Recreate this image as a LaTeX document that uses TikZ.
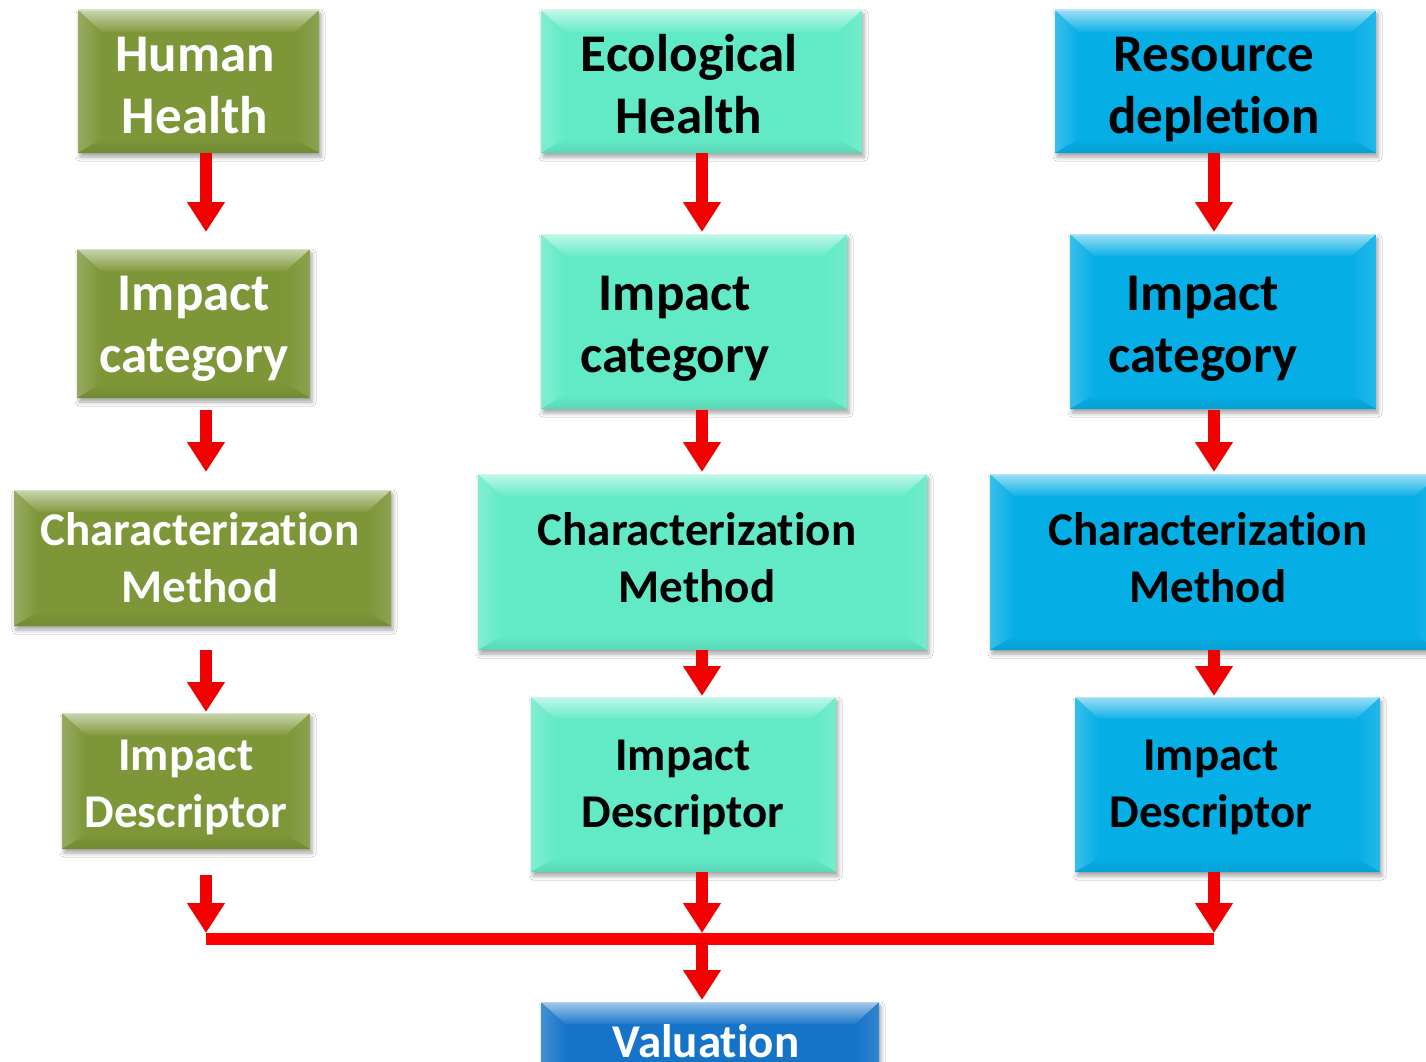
\documentclass[tikz,border=0pt]{standalone}
\usepackage{fontspec}
\setmainfont{Carlito}[Ligatures=NoCommon]
\usetikzlibrary{arrows.meta,calc,shadows.blur}

\definecolor{olivebox}{RGB}{124,150,56}
\definecolor{aquabox}{RGB}{98,234,198}
\definecolor{bluebox}{RGB}{6,174,230}
\definecolor{valbox}{RGB}{22,116,200}
\definecolor{flowred}{RGB}{240,0,0}

\tikzset{
  bevelbox/.style={rectangle, inner sep=0pt, outer sep=0pt, fill=#1,
    blur shadow={shadow xshift=2pt, shadow yshift=-4pt, shadow blur radius=4pt, shadow opacity=35},
    path picture={
      \coordinate (bNW) at (path picture bounding box.north west);
      \coordinate (bSE) at (path picture bounding box.south east);
      \coordinate (bNE) at (bSE |- bNW);
      \coordinate (bSW) at (bNW |- bSE);
      \coordinate (iNW) at ([shift={(24pt,-22pt)}]bNW);
      \coordinate (iNE) at ([shift={(-24pt,-22pt)}]bNE);
      \coordinate (iSW) at ([shift={(24pt,14pt)}]bSW);
      \coordinate (iSE) at ([shift={(-24pt,14pt)}]bSE);
      % left and right facets
      \shade[left color=#1!80!white, right color=#1] (bNW) -- (iNW) -- (iSW) -- (bSW) -- cycle;
      \shade[left color=#1, right color=#1!88!white] (bNE) -- (iNE) -- (iSE) -- (bSE) -- cycle;
      % bottom facet
      \shade[top color=#1, bottom color=#1!92!black] (bSW) -- (iSW) -- (iSE) -- (bSE) -- cycle;
      % lit top facet
      \shade[top color=#1!40!white, bottom color=#1!96!white]
        (bNW) -- (bNE) -- (iNE) -- (iNW) -- cycle;
      \draw[#1!30!white, line width=1.5pt] (bNW) -- (bNE);
    }},
  bigtxt/.style={align=center, inner sep=0pt, font=\bfseries\fontsize{53}{62}\selectfont},
  smalltxt/.style={align=center, inner sep=0pt, font=\bfseries\fontsize{47}{57}\selectfont},
  flow/.style={draw=flowred, line width=12pt,
    -{Triangle[width=36pt, length=30pt]}},
}

\begin{document}
\begin{tikzpicture}[x=1pt, y=-1pt]
  \useasboundingbox (0,0) rectangle (1426,1062);
  \clip (0,0) rectangle (1426,1062);
  \fill[white] (0,0) rectangle (1426,1062);

  % arrow columns and the collecting bar
  \coordinate (c1) at (206,0);
  \coordinate (c2) at (702,0);
  \coordinate (c3) at (1214,0);
  \coordinate (j1) at (206,939);
  \coordinate (j2) at (702,939);
  \coordinate (j3) at (1214,939);

  % first column: human health
  \node[bevelbox=olivebox, minimum width=241pt, minimum height=143pt] (hh)  at (198.5,81.5) {};
  \node[bevelbox=olivebox, minimum width=233pt, minimum height=149pt] (ic1) at (193.5,323.5) {};
  \node[bevelbox=olivebox, minimum width=377pt, minimum height=136pt] (cm1) at (202.5,558) {};
  \node[bevelbox=olivebox, minimum width=248pt, minimum height=136pt] (id1) at (186,781) {};

  % second column: ecological health
  \node[bevelbox=aquabox, minimum width=321pt, minimum height=143pt] (eh)  at (701.5,81.5) {};
  \node[bevelbox=aquabox, minimum width=306pt, minimum height=175pt] (ic2) at (694,321.5) {};
  \node[bevelbox=aquabox, minimum width=449pt, minimum height=176pt] (cm2) at (702.5,562) {};
  \node[bevelbox=aquabox, minimum width=305pt, minimum height=175pt] (id2) at (683.5,784.5) {};

  % third column: resource depletion
  \node[bevelbox=bluebox, minimum width=321pt, minimum height=143pt] (rd)  at (1215.5,81.5) {};
  \node[bevelbox=bluebox, minimum width=306pt, minimum height=175pt] (ic3) at (1223,321.5) {};
  \node[bevelbox=bluebox, minimum width=449pt, minimum height=176pt] (cm3) at (1214.5,562) {};
  \node[bevelbox=bluebox, minimum width=305pt, minimum height=175pt] (id3) at (1227.5,784.5) {};

  % common result
  \node[bevelbox=valbox, minimum width=338pt, minimum height=98pt] (val) at (710,1051) {};

  % box texts (anchored on the baseline of the last line)
  \node[bigtxt, anchor=base, text=white] (hhT)  at (195,133)  {Human\\Health};
  \node[bigtxt, anchor=base, text=black] (ehT)  at (689,133)  {Ecological\\Health};
  \node[bigtxt, anchor=base, text=black] (rdT)  at (1214,133) {Resource\\depletion};
  \node[bigtxt, anchor=base, text=white] (ic1T) at (194,372) {Impact\\category};
  \node[bigtxt, anchor=base, text=black] (ic2T) at (675,372) {Impact\\category};
  \node[bigtxt, anchor=base, text=black] (ic3T) at (1203,372) {Impact\\category};
  \node[smalltxt, anchor=base, text=white] (cm1T) at (200,602) {Characterization\\Method};
  \node[smalltxt, anchor=base, text=black] (cm2T) at (697,602) {Characterization\\Method};
  \node[smalltxt, anchor=base, text=black] (cm3T) at (1208,602) {Characterization\\Method};
  \node[smalltxt, anchor=base, text=white] (id1T) at (186,827) {Impact\\Descriptor};
  \node[smalltxt, anchor=base, text=black] (id2T) at (683,827) {Impact\\Descriptor};
  \node[smalltxt, anchor=base, text=black] (id3T) at (1211,827) {Impact\\Descriptor};
  \node[smalltxt, anchor=base, text=white] (valT) at (706,1057) {Valuation};

  % flow arrows, column 1
  \draw[flow, shorten >=17pt] (hh.south -| c1) -- (ic1.north -| c1);
  \draw[flow, shorten <=12pt, shorten >=18pt] (ic1.south -| c1) -- (cm1.north -| c1);
  \draw[flow, shorten <=24pt, shorten >=1pt] (cm1.south -| c1) -- (id1.north -| c1);
  \draw[flow, shorten <=26pt, shorten >=6pt] (id1.south -| c1) -- (j1);

  % flow arrows, column 2
  \draw[flow, shorten >=2pt] (eh.south -| c2) -- (ic2.north -| c2);
  \draw[flow, shorten <=1pt, shorten >=2pt] (ic2.south -| c2) -- (cm2.north -| c2);
  \draw[flow, shorten >=1pt] (cm2.south -| c2) -- (id2.north -| c2);
  \draw[flow, shorten >=6pt] (id2.south -| c2) -- (j2);

  % flow arrows, column 3
  \draw[flow, shorten >=2pt] (rd.south -| c3) -- (ic3.north -| c3);
  \draw[flow, shorten <=1pt, shorten >=2pt] (ic3.south -| c3) -- (cm3.north -| c3);
  \draw[flow, shorten >=1pt] (cm3.south -| c3) -- (id3.north -| c3);
  \draw[flow, shorten >=6pt] (id3.south -| c3) -- (j3);

  % collecting bar and the arrow into valuation
  \draw[draw=red, line width=12pt] (j1) -- (j3);
  \draw[flow, shorten >=2pt] (j2) -- (val.north -| c2);
\end{tikzpicture}
\end{document}
